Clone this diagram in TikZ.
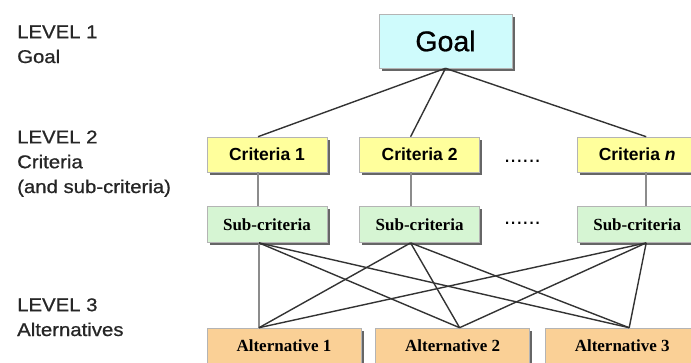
\documentclass[tikz,border=0pt]{standalone}
\usepackage{fontspec}
\setmainfont{Liberation Serif}
\setsansfont{Liberation Sans}
\newfontfamily\lvlfont{Liberation Sans}[FakeStretch=1.1, FakeBold=0.8]
\newfontfamily\goalfont{Liberation Sans}[FakeBold=0.8]
\usetikzlibrary{positioning, shadows}
\definecolor{goalcyan}{HTML}{CFFBFC}
\definecolor{crityellow}{HTML}{FFFF9C}
\definecolor{subgreen}{HTML}{D6F5D3}
\definecolor{altorange}{HTML}{FAD096}
\definecolor{boxedge}{HTML}{B4B4B4}
\definecolor{linkgray}{HTML}{333333}

\begin{document}
\begin{tikzpicture}[x=1pt, y=1pt,
    b/.style={draw=boxedge, line width=0.6pt, inner sep=0pt, align=center, drop shadow={shadow xshift=2.5pt, shadow yshift=-2.5pt, fill=black!60, opacity=1}},
    critbox/.style={b, fill=crityellow, minimum width=120pt, minimum height=35pt, font=\sffamily\bfseries\fontsize{17.5}{19}\selectfont},
    subbox/.style={b, fill=subgreen, minimum width=120pt, minimum height=36pt, font=\rmfamily\bfseries\fontsize{17}{19}\selectfont},
    altbox/.style={b, fill=altorange, minimum width=154pt, minimum height=35pt, font=\rmfamily\bfseries\fontsize{17}{19}\selectfont},
    lvl/.style={anchor=base west, align=left, inner sep=0pt, text=black!85, font=\lvlfont\fontsize{18.5}{24.8}\selectfont},
    dots/.style={inner sep=0pt, font=\sffamily\fontsize{22}{22}\selectfont},
    link/.style={draw=linkgray, line width=1.4pt},
    vlink/.style={draw=black!45, line width=2pt}]
  \useasboundingbox (0,0) rectangle (691,-362);
  % level labels
  \node[lvl] (l1) at (17,-63) {LEVEL 1\\Goal};
  \node[lvl] (l2) at (17,-193) {LEVEL 2\\Criteria\\(and sub-criteria)};
  \node[lvl] (l3) at (17,-336) {LEVEL 3\\Alternatives};
  % hierarchy
  \node[b, fill=goalcyan, minimum width=133pt, minimum height=54pt, font=\goalfont\fontsize{28.5}{30}\selectfont] (goal) at (445.5,-41) {Goal};
  \node[critbox] (c1) at (267,-154.5) {Criteria 1};
  \node[critbox, right=32pt of c1] (c2) {Criteria 2};
  \node[critbox, right=97pt of c2] (cn) {Criteria \textit{n}};
  \node[subbox, below=34pt of c1] (s1) {Sub-criteria};
  \node[subbox, below=34pt of c2] (s2) {Sub-criteria};
  \node[subbox, below=34pt of cn] (sn) {Sub-criteria};
  \node[dots, right=24pt of c2, yshift=-7pt] (d1) {......};
  \node[dots, right=24pt of s2, yshift=1pt] (d2) {......};
  \node[altbox] (a1) at (284,-345.5) {Alternative 1};
  \node[altbox, right=14pt of a1] (a2) {Alternative 2};
  \node[altbox, right=15pt of a2] (a3) {Alternative 3};
  % links
  \draw[link] (goal.south) -- ([xshift=-9pt]c1.north);
  \draw[link] (goal.south) -- ([xshift=-9pt]c2.north);
  \draw[link] (goal.south) -- ([xshift=9pt]cn.north);
  \draw[vlink] ([xshift=-9pt]c1.south) -- ([xshift=-9pt]s1.north);
  \draw[vlink] ([xshift=-9pt]c2.south) -- ([xshift=-9pt]s2.north);
  \draw[vlink] ([xshift=9pt]cn.south) -- ([xshift=9pt]sn.north);
  \draw[vlink] ([xshift=-8pt]s1.south) -- ([xshift=-25pt]a1.north);
  \foreach \s/\sx/\a/\ax in {s1/-8/a2/7, s1/-8/a3/7, s2/-9/a1/-25, s2/-9/a2/7, s2/-9/a3/7, sn/9/a1/-25, sn/9/a2/7, sn/9/a3/7}
    \draw[link] ([xshift=\sx pt]\s.south) -- ([xshift=\ax pt]\a.north);
\end{tikzpicture}
\end{document}
